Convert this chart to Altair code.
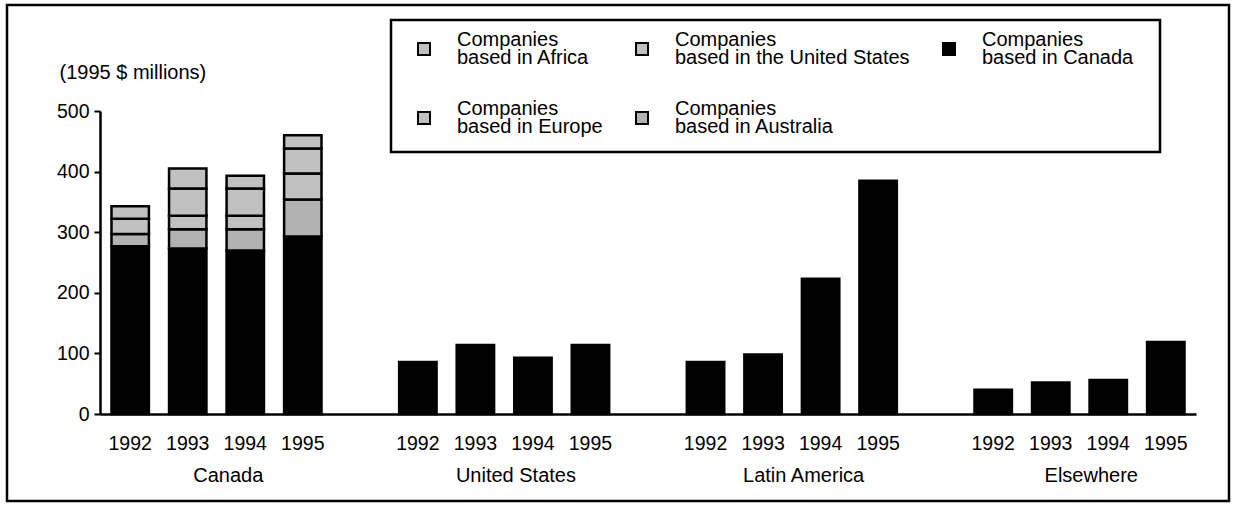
import altair as alt
import pandas as pd

# ---- data ----
regions = ["Canada", "United States", "Latin America", "Elsewhere"]
years = ["1992", "1993", "1994", "1995"]

# investment by companies based in Canada, per destination region (1995 $ millions)
canada_based_in_canada = [277, 273, 270, 293]
canada_based_in_us = [86, 114, 93, 114]
canada_based_in_latam = [86, 98, 223, 385]
canada_based_elsewhere = [40, 52, 56, 119]

# foreign-based companies investing in Canada
australia_based = [20, 32, 35, 61]
europe_based = [25, 22, 22, 43]
us_based = [21, 45, 45, 41]
africa_based = [0, 33, 21, 22]

companies = [
    "Companies|based in Africa",
    "Companies|based in the United States",
    "Companies|based in Canada",
    "Companies|based in Europe",
    "Companies|based in Australia",
]
company_colors = ["#c0c0c0", "#c0c0c0", "#000000", "#c0c0c0", "#b2b2b2"]
stack_order = {
    "Companies|based in Canada": 0,
    "Companies|based in Australia": 1,
    "Companies|based in Europe": 2,
    "Companies|based in the United States": 3,
    "Companies|based in Africa": 4,
}

# ---- build tables ----
slots = []
for i, r in enumerate(regions):
    if i > 0:
        slots.append(f"gap{i}")
    for y in years:
        slots.append(f"{r}|{y}")

rows = []
canada_series = {
    "Canada": canada_based_in_canada,
    "United States": canada_based_in_us,
    "Latin America": canada_based_in_latam,
    "Elsewhere": canada_based_elsewhere,
}
for r, vals in canada_series.items():
    for y, v in zip(years, vals):
        rows.append({"key": f"{r}|{y}", "company": "Companies|based in Canada", "value": v})
for comp, vals in [
    ("Companies|based in Australia", australia_based),
    ("Companies|based in Europe", europe_based),
    ("Companies|based in the United States", us_based),
    ("Companies|based in Africa", africa_based),
]:
    for y, v in zip(years, vals):
        if v > 0:
            rows.append({"key": f"Canada|{y}", "company": comp, "value": v})
df = pd.DataFrame(rows)
df["ord"] = df["company"].map(stack_order)

df_regions = pd.DataFrame({"key": [f"{r}|1994" for r in regions], "name": regions})
df_one = pd.DataFrame({"a": [1]})

FONT = "Liberation Sans"
xscale = alt.Scale(domain=slots, paddingInner=0.35, paddingOuter=0.2)
xaxis = alt.Axis(
    title=None,
    ticks=False,
    tickSize=0,
    labelAngle=0,
    labelPadding=20,
    labelFontSize=19.5,
    labelOverlap=False,
    labelExpr="indexof(datum.value, 'gap') == 0 ? '' : slice(datum.value, -4)",
    domainWidth=2.5,
    domainColor="black",
    labelColor="black",
    grid=False,
)

bars = alt.Chart(df).mark_bar(stroke="black", strokeWidth=2.5).encode(
    x=alt.X("key:N", scale=xscale, sort=slots, axis=xaxis),
    y=alt.Y(
        "value:Q",
        stack="zero",
        scale=alt.Scale(domain=[0, 500], nice=False),
        axis=alt.Axis(
            values=[0, 100, 200, 300, 400, 500],
            title="(1995 $ millions)",
            titleAngle=0,
            titleAlign="left",
            titleBaseline="alphabetic",
            titleX=-41,
            titleY=-33,
            titleFontSize=20,
            titleFontWeight="normal",
            titleColor="black",
            tickSize=6,
            tickWidth=2,
            tickColor="black",
            labelPadding=5,
            labelFontSize=19.5,
            labelColor="black",
            domainWidth=2.5,
            domainColor="black",
            grid=False,
        ),
    ),
    color=alt.Color(
        "company:N",
        scale=alt.Scale(domain=companies, range=company_colors),
        legend=alt.Legend(
            title=None,
            orient="none",
            legendX=314,
            legendY=-81,
            columns=3,
            direction="horizontal",
            symbolType="M-1,0.5H1V2.5H-1Z",
            symbolSize=144,
            symbolStrokeColor="black",
            symbolStrokeWidth=2,
            labelFontSize=20,
            labelColor="black",
            labelOffset=23,
            labelLimit=0,
            labelExpr="split(datum.label, '|')",
            columnPadding=29,
            rowPadding=31,
            padding=0,
        ),
    ),
    order=alt.Order("ord:Q", sort="ascending"),
)

region_text = alt.Chart(df_regions).mark_text(
    fontSize=20, align="center", baseline="alphabetic", dx=-17, color="black"
).encode(
    x=alt.X("key:N", scale=xscale, sort=slots, axis=xaxis),
    y=alt.value(371),
    text="name:N",
)

outer_frame = alt.Chart(df_one).mark_rect(
    fillOpacity=0, stroke="black", strokeWidth=2.5
).encode(x=alt.value(-93), x2=alt.value(1129), y=alt.value(-106), y2=alt.value(390))

legend_box = alt.Chart(df_one).mark_rect(
    fillOpacity=0, stroke="black", strokeWidth=2.5
).encode(x=alt.value(291), x2=alt.value(1060), y=alt.value(-91), y2=alt.value(41))

chart = (
    alt.layer(bars, region_text, outer_frame, legend_box)
    .properties(
        width=1096,
        height=303,
        autosize=alt.AutoSizeParams(type="none"),
        padding={"left": 100, "top": 111, "right": 39, "bottom": 92},
        background="white",
    )
    .configure(font=FONT, style={"guide-label": {"lineHeight": 18}})
    .configure_view(strokeWidth=0)
)

chart.save("out.html", embed_options={"renderer": "svg", "actions": False})
